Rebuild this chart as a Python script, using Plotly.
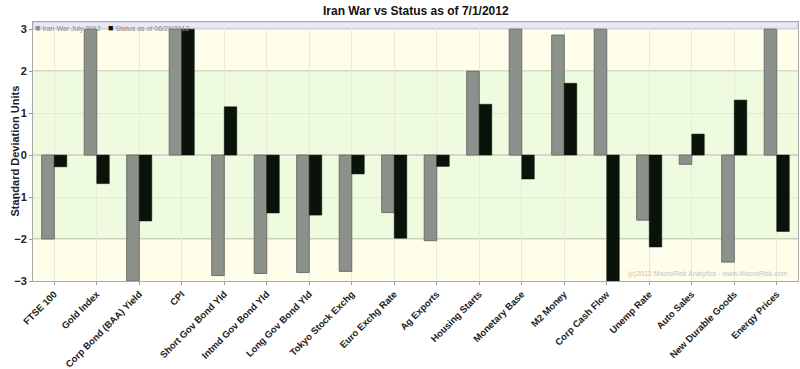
import plotly.graph_objects as go

categories = ["FTSE 100", "Gold Index", "Corp Bond (BAA) Yield", "CPI", "Short Gov Bond Yld",
              "Intmd Gov Bond Yld", "Long Gov Bond Yld", "Tokyo Stock Exchg", "Euro Exchg Rate",
              "Ag Exports", "Housing Starts", "Monetary Base", "M2 Money", "Corp Cash Flow",
              "Unemp Rate", "Auto Sales", "New Durable Goods", "Energy Prices"]
iran_war = [-2.0, 3.0, -3.0, 3.0, -2.87, -2.82, -2.8, -2.77, -1.37, -2.04, 2.0, 3.0, 2.86, 3.0,
            -1.55, -0.22, -2.55, 3.0]
status = [-0.28, -0.68, -1.57, 3.0, 1.15, -1.38, -1.43, -0.45, -1.98, -0.27, 1.21, -0.57, 1.71, -3.0,
          -2.19, 0.5, 1.31, -1.82]
name_a = "Iran War July 2012"
name_b = "Status as of 06/29/2012"
title = "Iran War vs Status as of 7/1/2012"
y_title = "Standard Deviation Units"
y_ticks = [-3, -2, -1, 0, 1, 2, 3]
watermark = "(c)2012 MacroRisk Analytics - www.MacroRisk.com"

FONT = "Arial, Liberation Sans, sans-serif"
GRAY = "#8d918b"
BLACK = "#0a1309"

fig = go.Figure()
fig.add_trace(go.Bar(x=categories, y=iran_war, name=name_a, marker=dict(color=GRAY, line=dict(color="#6c706a", width=1))))
fig.add_trace(go.Bar(x=categories, y=status, name=name_b, marker=dict(color=BLACK, line=dict(color=BLACK, width=0.5))))

ymin, ymax = -3, 3.17
shapes = [
    dict(type="rect", xref="paper", yref="y", x0=0, x1=1, y0=ymin, y1=ymax, fillcolor="#fefeeb", line_width=0, layer="below"),
    dict(type="rect", xref="paper", yref="y", x0=0, x1=1, y0=-2, y1=2, fillcolor="#eefbdf", line_width=0, layer="below"),
    dict(type="rect", xref="paper", yref="y", x0=0, x1=1, y0=3.02, y1=ymax, fillcolor="#e8e8f6", line=dict(color="#c8c8e0", width=1), layer="below"),
    dict(type="line", xref="paper", yref="y", x0=0, x1=1, y0=2, y1=2, line=dict(color="#9ea494", width=1), layer="below"),
    dict(type="line", xref="paper", yref="y", x0=0, x1=1, y0=-2, y1=-2, line=dict(color="#9ea494", width=1), layer="below"),
]

annotations = [
    dict(text=title, xref="paper", yref="paper", x=0.5, y=1, yshift=11, xanchor="center", yanchor="middle",
         showarrow=False, font=dict(family=FONT, size=12, color="#111", weight="bold")),
    dict(text=y_title, xref="paper", yref="paper", x=0, y=0.5, xshift=-19, xanchor="center", yanchor="middle",
         textangle=-90, showarrow=False, font=dict(family=FONT, size=11, color="#222", weight="bold")),
    dict(text=f'<span style="color:{GRAY};font-size:9px">■</span> {name_a}', xref="paper", yref="paper", x=0.0, y=1.0, yshift=1,
         xanchor="left", yanchor="top", showarrow=False, font=dict(family=FONT, size=7, color="#8a8a90")),
    dict(text=f'<span style="color:{BLACK};font-size:9px">■</span> {name_b}', xref="paper", yref="paper", x=0.096, y=1.0, yshift=1,
         xanchor="left", yanchor="top", showarrow=False, font=dict(family=FONT, size=7, color="#8a8a90")),
    dict(text=watermark, xref="paper", yref="paper", x=0.99, y=0.0, yshift=7, xanchor="right", yanchor="middle",
         showarrow=False, font=dict(family=FONT, size=7, color="#c4c4bc")),
]

fig.update_layout(
    width=800, height=369,
    margin=dict(l=33, r=2, t=22, b=88),
    paper_bgcolor="white", plot_bgcolor="#fefeeb",
    barmode="group", bargap=0.41, bargroupgap=0,
    showlegend=False,
    shapes=shapes, annotations=annotations,
    font=dict(family=FONT),
)
fig.update_xaxes(
    automargin=False,
    tickangle=-45, tickfont=dict(family=FONT, size=9.5, color="#222", weight="bold"),
    showgrid=True, gridcolor="#e6e9dc", gridwidth=1,
    ticks="outside", ticklen=3, tickcolor="#999",
    showline=True, linecolor="#aaa", mirror=True,
)
fig.update_yaxes(
    automargin=False,
    range=[ymin, ymax], tickvals=y_ticks,
    tickfont=dict(family=FONT, size=11, color="#222", weight="bold"),
    showgrid=True, gridcolor="#e4e8d8", zeroline=True, zerolinecolor="#d4d8c8",
    ticks="outside", ticklen=3, tickcolor="#999",
    showline=True, linecolor="#aaa", mirror=True,
)
fig.write_html("out.html", config={"displayModeBar": False},
               post_script="document.body.style.margin='0px';")
